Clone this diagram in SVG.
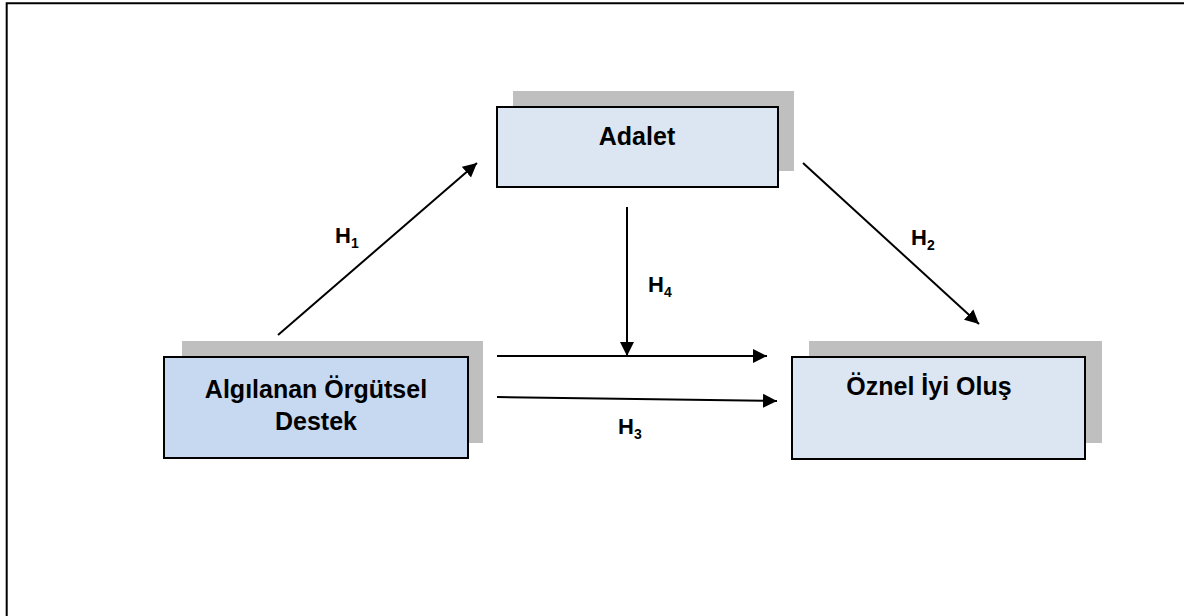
<svg xmlns="http://www.w3.org/2000/svg" width="1184" height="616" viewBox="0 0 1184 616">
<defs>
<style>
.shadow{fill:#BFBFBF;stroke:none}
.box{stroke:#000;stroke-width:2}
.light{fill:#DCE6F2}
.mid{fill:#C6D9F1}
.lbl{font-family:"Liberation Sans",Arial,sans-serif;font-weight:bold;font-size:25px;fill:#000;text-anchor:middle}
.h{font-family:"Liberation Sans",Arial,sans-serif;font-weight:bold;font-size:22px;fill:#000}
.sub{font-size:14px}
.conn{stroke:#000;stroke-width:2;fill:none;marker-end:url(#arr)}
</style>
<marker id="arr" viewBox="0 0 10 10" refX="10" refY="5" markerWidth="7" markerHeight="7.5" markerUnits="strokeWidth" orient="auto">
<path d="M0,0 L10,5 L0,10 z" fill="#000"/>
</marker>
</defs>
<rect width="1184" height="616" fill="#fff"/>
<path d="M6.7 616 V3.3 H1184" fill="none" stroke="#000" stroke-width="2"/>
<g id="adalet">
<rect class="shadow" x="513" y="91" width="281" height="80"/>
<rect class="box light" x="497" y="107" width="281" height="80"/>
<text class="lbl" x="637" y="145">Adalet</text>
</g>
<g id="destek">
<rect class="shadow" x="182" y="341" width="301" height="102"/>
<rect class="box mid" x="164" y="357" width="304" height="101"/>
<text class="lbl" x="316" y="398">Algılanan Örgütsel</text>
<text class="lbl" x="316" y="430">Destek</text>
</g>
<g id="oznel">
<rect class="shadow" x="809" y="341" width="293" height="102"/>
<rect class="box light" x="792" y="357" width="293" height="102"/>
<text class="lbl" x="929" y="395">Öznel İyi Oluş</text>
</g>
<g id="connectors">
<line class="conn" x1="278" y1="335" x2="477" y2="163"/>
<line class="conn" x1="803" y1="163" x2="979" y2="324"/>
<line class="conn" x1="627" y1="207" x2="627" y2="356"/>
<line class="conn" x1="497" y1="356" x2="767" y2="356"/>
<line class="conn" x1="497" y1="397" x2="777" y2="401"/>
</g>
<g id="labels">
<text class="h" x="335" y="243">H<tspan class="sub" dy="5">1</tspan></text>
<text class="h" x="911" y="245">H<tspan class="sub" dy="5">2</tspan></text>
<text class="h" x="648" y="292">H<tspan class="sub" dy="5">4</tspan></text>
<text class="h" x="618" y="434">H<tspan class="sub" dy="5">3</tspan></text>
</g>
</svg>
